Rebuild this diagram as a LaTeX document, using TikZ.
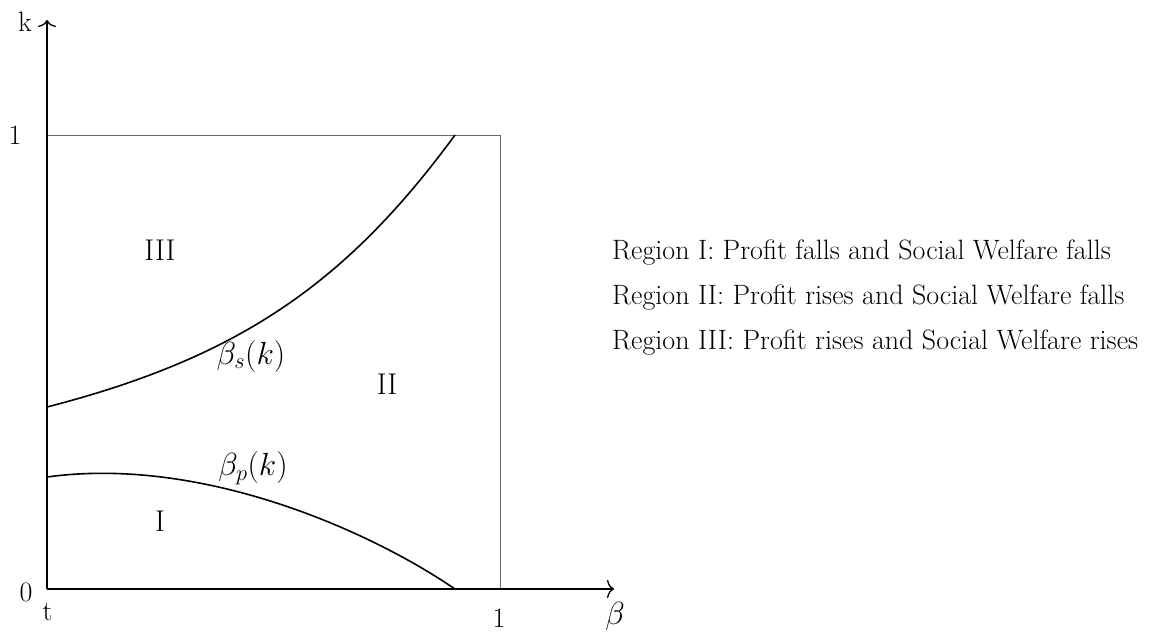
\RequirePackage{fix-cm}
\documentclass[tikz,border=0pt]{standalone}
\usetikzlibrary{arrows.meta}
\begin{document}
\begin{tikzpicture}[x=1pt,y=-1pt,
  every node/.style={font=\fontsize{28}{33}\selectfont, inner sep=0pt},
  mathlabel/.style={font=\fontsize{32}{38}\selectfont},
  region/.style={font=\fontsize{30}{36}\selectfont},
  axis/.style={line width=1.3pt, -{To[length=7pt,width=18pt]}},
  frame/.style={line width=1pt, draw=black!60},
  curve/.style={line width=1.6pt},
  legend/.style={anchor=west}]
\useasboundingbox (0,0) rectangle (1160,632);
% axes
\coordinate (O) at (47,589);
\coordinate (ytip) at (47,20);
\coordinate (xtip) at (614,589);
\coordinate (y1) at (47,135);
\coordinate (c11) at (500,135);
\coordinate (x1) at (500,589);
\draw[frame] (y1) -- (c11) -- (x1);
\draw[axis] (O) -- (ytip);
\draw[axis] (O) -- (xtip);
% axis labels
\node (lk) at (25,22) {k};
\node (l0) at (26,592) {0};
\node (l1y) at (15,135) {1};
\node (lt) at (47.5,612) {t};
\node (l1x) at (499,618) {1};
\node[mathlabel] (lb) at (615,616) {$\beta$};
% curves
\coordinate (s0) at (47,407);
\coordinate (s1) at (455,135);
\coordinate (p0) at (47,477);
\coordinate (p1) at (455,589);
\draw[curve] (s0) .. controls (237,358) and (345,285) .. (s1);
\draw[curve] (p0) .. controls (200,456) and (367,529) .. (p1);
% region labels
\node[region] (rIII) at (160,250) {III};
\node[region] (rII) at (387,384) {II};
\node[region] (rI) at (160,521) {I};
\node[mathlabel] (bs) at (251,356) {$\beta_s(k)$};
\node[mathlabel] (bp) at (253,468) {$\beta_p(k)$};
% legend
\node[legend] (leg1) at (612,253) {Region I: Profit falls and Social Welfare falls};
\node[legend] (leg2) at (612,298) {Region II: Profit rises and Social Welfare falls};
\node[legend] (leg3) at (612,343) {Region III: Profit rises and Social Welfare rises};
\end{tikzpicture}
\end{document}
